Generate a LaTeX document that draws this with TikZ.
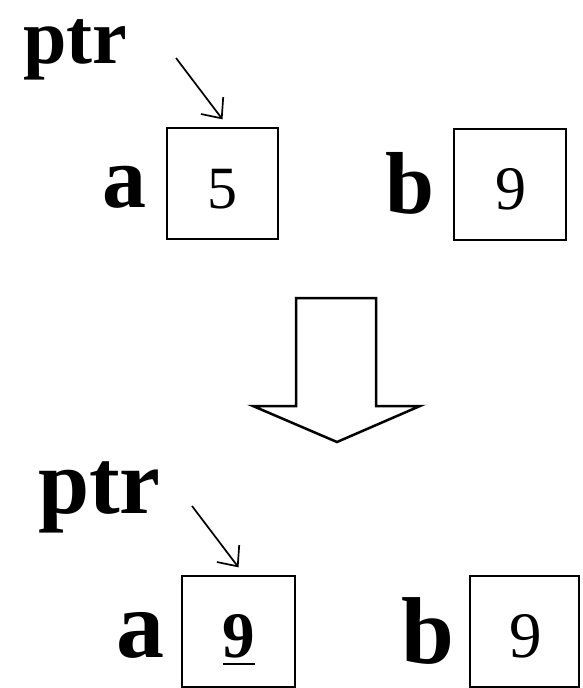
\documentclass[tikz,border=0pt]{standalone}
\usepackage{fontspec}
\setmainfont{Liberation Serif}
\usetikzlibrary{arrows.meta}
\tikzset{
  cell/.style={draw, line width=1.3pt, inner sep=0pt, minimum height=111pt},
  lbl/.style={inner sep=0pt, anchor=base, font=\bfseries},
  digit/.style={inner sep=0pt, anchor=base},
  ptrarrow/.style={line width=1.7pt, -{Straight Barb[length=16pt,width=28pt,line width=1.7pt]}},
  blockarrow/.style={draw, line width=2.5pt, fill=white, line join=miter},
}
\begin{document}
\begin{tikzpicture}[x=1pt,y=-1pt]
\useasboundingbox (0,0) rectangle (583,688);
% top state
\node[lbl, font=\bfseries\fontsize{78}{80}\selectfont] (ptrT) at (75,63) {ptr};
\node[lbl, font=\bfseries\fontsize{88}{90}\selectfont] (aT) at (124,207) {a};
\node[lbl, font=\bfseries\fontsize{88}{90}\selectfont] (bT) at (410,213) {b};
\node[cell, minimum width=111pt] (boxAT) at (222.5,183.5) {};
\node[cell, minimum width=112pt] (boxBT) at (510,184.5) {};
\node[digit, font=\fontsize{60}{62}\selectfont] (fiveT) at (222.5,208) {5};
\node[digit, font=\fontsize{62}{64}\selectfont] (nineBT) at (510.5,209) {9};
\coordinate (ptrTs) at (176,58);
\draw[ptrarrow] (ptrTs) -- ([yshift=8pt]boxAT.north);
% block arrow
\draw[blockarrow] (296,298) -- (376,298) -- (376,406) -- (420,406) -- (337,442) -- (253,406) -- (296,406) -- cycle;
% bottom state
\node[lbl, font=\bfseries\fontsize{92}{94}\selectfont] (ptrB) at (99.5,513) {ptr};
\node[lbl, font=\bfseries\fontsize{96}{98}\selectfont] (aB) at (140,657) {a};
\node[lbl, font=\bfseries\fontsize{95}{97}\selectfont] (bB) at (428,663) {b};
\node[cell, minimum width=113pt] (boxAB) at (238.5,631.5) {};
\node[cell, minimum width=109pt] (boxBB) at (524.5,631.5) {};
\node[digit, font=\bfseries\fontsize{65}{67}\selectfont] (nineAB) at (239,657) {9};
\draw[line width=2.6pt] ([yshift=-7pt]nineAB.base west) -- ([yshift=-7pt]nineAB.base east);
\node[digit, font=\fontsize{65}{67}\selectfont] (nineBB) at (526,657) {9};
\coordinate (ptrBs) at (192,506);
\draw[ptrarrow] (ptrBs) -- ([yshift=8pt]boxAB.north);
\end{tikzpicture}
\end{document}
